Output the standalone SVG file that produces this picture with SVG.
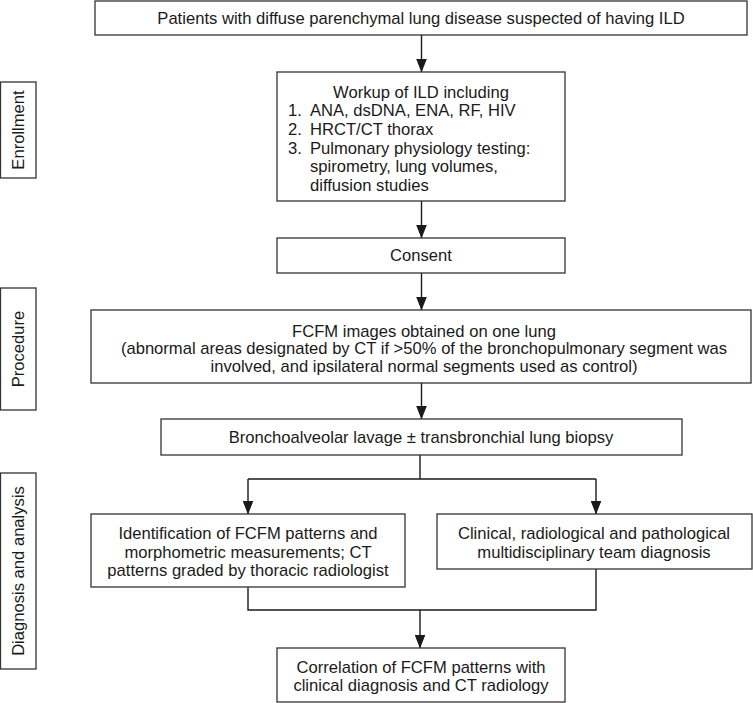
<svg xmlns="http://www.w3.org/2000/svg" width="753" height="703" viewBox="0 0 753 703">
<defs>
<style>
.box{fill:#fff;stroke:#333;stroke-width:1.3}
.t{font-family:"Liberation Sans",Arial,sans-serif;font-size:16.6px;fill:#1a1a1a}
.c{text-anchor:middle}
.ln{fill:none;stroke:#1a1a1a;stroke-width:1.4}
</style>
<marker id="arr" markerUnits="userSpaceOnUse" markerWidth="14" markerHeight="11" refX="13.5" refY="5.5" orient="auto" viewBox="0 0 14 11">
<path d="M0,0 L14,5.5 L0,11 Z" fill="#1a1a1a"/>
</marker>
</defs>
<rect width="753" height="703" fill="#fff"/>

<g id="label-enrollment">
<rect class="box" x="0.5" y="82" width="35.5" height="96"/>
<text class="t c" transform="translate(24,130) rotate(-90)">Enrollment</text>
</g>
<g id="label-procedure">
<rect class="box" x="0.5" y="288" width="35.5" height="122"/>
<text class="t c" transform="translate(24,349) rotate(-90)">Procedure</text>
</g>
<g id="label-diagnosis">
<rect class="box" x="0.5" y="473" width="35.5" height="196"/>
<text class="t c" transform="translate(24,571) rotate(-90)">Diagnosis and analysis</text>
</g>

<g id="connectors">
<line class="ln" x1="421.5" y1="35" x2="421.5" y2="72" marker-end="url(#arr)"/>
<line class="ln" x1="421.5" y1="201" x2="421.5" y2="238" marker-end="url(#arr)"/>
<line class="ln" x1="421.5" y1="273" x2="421.5" y2="310" marker-end="url(#arr)"/>
<line class="ln" x1="421.5" y1="383" x2="421.5" y2="419" marker-end="url(#arr)"/>
<polyline class="ln" points="420,455 420,479"/>
<polyline class="ln" points="248,479 596,479"/>
<line class="ln" x1="248" y1="479" x2="248" y2="514" marker-end="url(#arr)"/>
<line class="ln" x1="596" y1="479" x2="596" y2="514" marker-end="url(#arr)"/>
<polyline class="ln" points="248,587 248,610 596,610 596,569"/>
<line class="ln" x1="420" y1="610" x2="420" y2="648" marker-end="url(#arr)"/>
</g>

<g id="node-patients">
<rect class="box" x="95" y="1" width="652" height="34"/>
<text class="t c" x="421" y="24">Patients with diffuse parenchymal lung disease suspected of having ILD</text>
</g>
<g id="node-workup">
<rect class="box" x="277" y="72" width="288" height="129"/>
<text class="t c" x="421" y="97.5">Workup of ILD including</text>
<text class="t" x="288" y="116.2">1.<tspan x="310">ANA, dsDNA, ENA, RF, HIV</tspan></text>
<text class="t" x="288" y="134.9">2.<tspan x="310">HRCT/CT thorax</tspan></text>
<text class="t" x="288" y="153.6">3.<tspan x="310">Pulmonary physiology testing:</tspan></text>
<text class="t" x="310" y="172.3">spirometry, lung volumes,</text>
<text class="t" x="310" y="191">diffusion studies</text>
</g>
<g id="node-consent">
<rect class="box" x="277" y="238" width="288" height="35"/>
<text class="t c" x="421" y="261">Consent</text>
</g>
<g id="node-fcfm">
<rect class="box" x="91" y="310" width="660" height="73"/>
<text class="t c" x="424" y="336.5">FCFM images obtained on one lung</text>
<text class="t c" x="424" y="354">(abnormal areas designated by CT if &gt;50% of the bronchopulmonary segment was</text>
<text class="t c" x="424" y="371.5">involved, and ipsilateral normal segments used as control)</text>
</g>
<g id="node-bal">
<rect class="box" x="161" y="419" width="521" height="36"/>
<text class="t c" x="421" y="443">Bronchoalveolar lavage ± transbronchial lung biopsy</text>
</g>
<g id="node-identification">
<rect class="box" x="91" y="514" width="314" height="73"/>
<text class="t c" x="248" y="539">Identification of FCFM patterns and</text>
<text class="t c" x="248" y="557.5">morphometric measurements; CT</text>
<text class="t c" x="248" y="576">patterns graded by thoracic radiologist</text>
</g>
<g id="node-mdt">
<rect class="box" x="437" y="514" width="315" height="55"/>
<text class="t c" x="594" y="539">Clinical, radiological and pathological</text>
<text class="t c" x="594" y="558">multidisciplinary team diagnosis</text>
</g>
<g id="node-correlation">
<rect class="box" x="277" y="648" width="288" height="54"/>
<text class="t c" x="421" y="673">Correlation of FCFM patterns with</text>
<text class="t c" x="421" y="691">clinical diagnosis and CT radiology</text>
</g>
</svg>
